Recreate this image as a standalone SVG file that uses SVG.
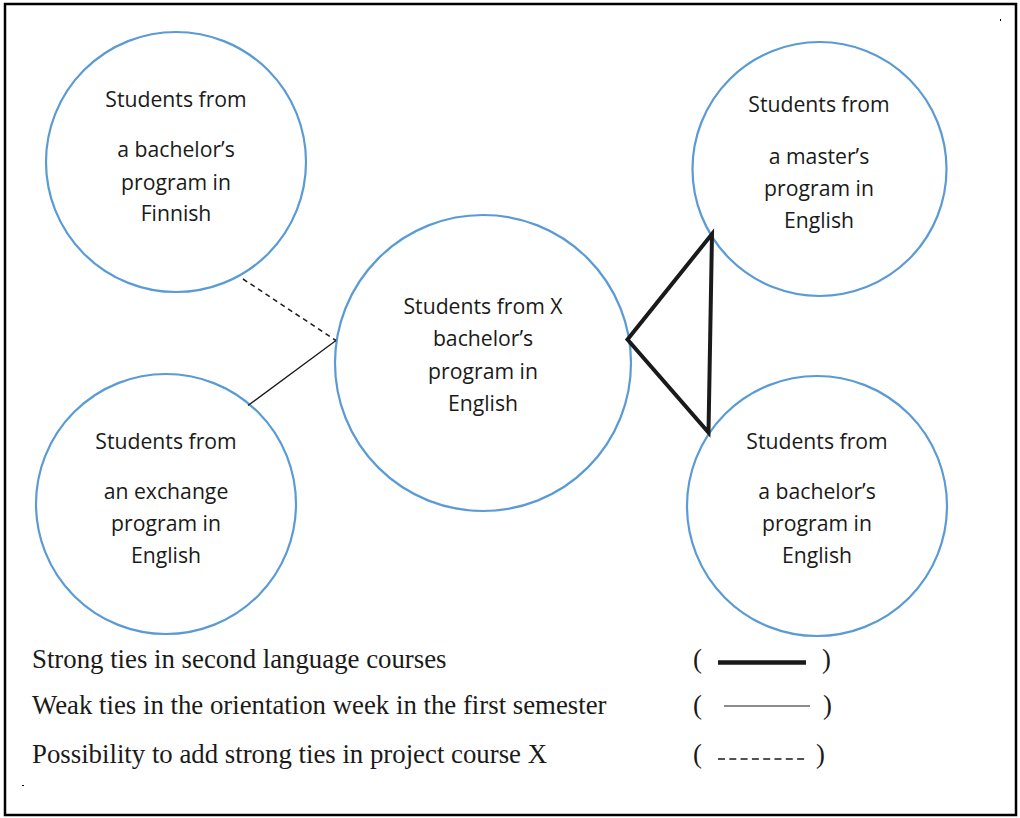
<svg xmlns="http://www.w3.org/2000/svg" width="1020" height="818" viewBox="0 0 1020 818">
<style>
.node circle{fill:#fff;stroke:#5B9BD5;stroke-width:2.2}
.node text{font-family:"Open Sans","Noto Sans",sans-serif;font-size:21.2px;fill:#1a1a1a;text-anchor:middle}
.leg{font-family:"Liberation Serif",serif;font-size:26.8px;fill:#1a1a1a}
</style>
<rect x="0" y="0" width="1020" height="818" fill="#fff"/>
<rect x="5" y="4" width="1011" height="811" fill="none" stroke="#000" stroke-width="2.5"/>
<rect x="1000" y="19" width="1" height="2" fill="#000"/>
<rect x="22" y="785" width="2" height="1" fill="#000"/>
<g id="n1" class="node"><circle cx="176" cy="162" r="130"/>
<text x="176" y="107">Students from</text><text x="176" y="157">a bachelor’s</text><text x="176" y="190">program in</text><text x="176" y="221">Finnish</text></g>
<g id="n2" class="node"><circle cx="166" cy="504" r="130"/>
<text x="166" y="449">Students from</text><text x="166" y="499">an exchange</text><text x="166" y="531">program in</text><text x="166" y="563">English</text></g>
<g id="n3" class="node"><circle cx="483" cy="363" r="148"/>
<text x="483" y="314">Students from X</text><text x="483" y="346">bachelor’s</text><text x="483" y="379">program in</text><text x="483" y="411">English</text></g>
<g id="n4" class="node"><circle cx="819.5" cy="169" r="127"/>
<text x="819" y="112">Students from</text><text x="819" y="164">a master’s</text><text x="819" y="196">program in</text><text x="819" y="228">English</text></g>
<g id="n5" class="node"><circle cx="817" cy="506" r="130"/>
<text x="817" y="449">Students from</text><text x="817" y="499">a bachelor’s</text><text x="817" y="531">program in</text><text x="817" y="563">English</text></g>
<g id="connectors" fill="none" stroke="#1a1a1a">
<line x1="243" y1="279" x2="336" y2="340.5" stroke-width="1.5" stroke-dasharray="5 4"/>
<line x1="248" y1="405.5" x2="336" y2="340.5" stroke-width="1.3"/>
<polygon points="627.5,339.5 712,234 708.5,432.5" stroke-width="4" stroke-linejoin="miter"/>
</g>
<g id="legend">
<text class="leg" x="32" y="668">Strong ties in second language courses</text>
<text class="leg" x="32" y="714">Weak ties in the orientation week in the first semester</text>
<text class="leg" x="32" y="763">Possibility to add strong ties in project course X</text>
<text class="leg" x="693" y="668">(</text><text class="leg" x="822" y="668">)</text>
<text class="leg" x="693" y="714">(</text><text class="leg" x="823" y="714">)</text>
<text class="leg" x="693" y="763">(</text><text class="leg" x="816" y="763">)</text>
<line x1="718" y1="662.5" x2="806" y2="662.5" stroke="#1a1a1a" stroke-width="4.5"/>
<line x1="724" y1="706" x2="810" y2="706" stroke="#1a1a1a" stroke-width="1.2"/>
<line x1="718" y1="759" x2="808" y2="759" stroke="#1a1a1a" stroke-width="1.5" stroke-dasharray="7 4.3"/>
</g>
</svg>
